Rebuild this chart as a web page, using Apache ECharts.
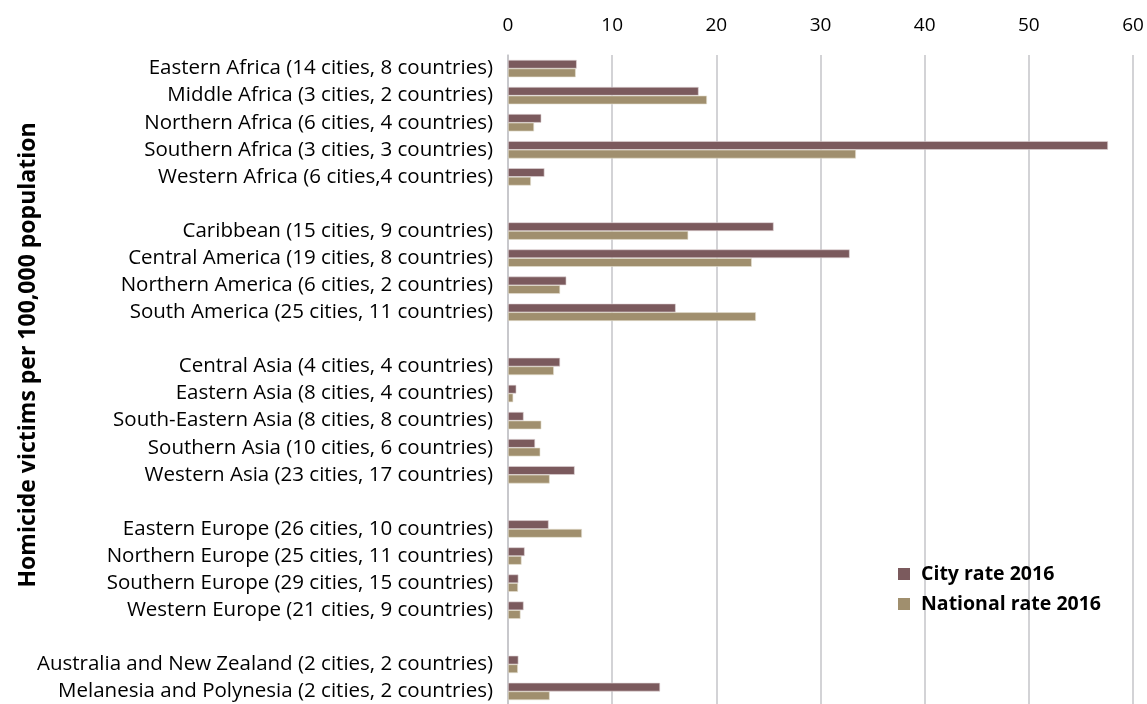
<!DOCTYPE html>
<html>
<head>
<meta charset="utf-8">
<script src="https://cdn.jsdelivr.net/npm/echarts@6/dist/echarts.min.js"></script>
<style>
html,body{margin:0;padding:0;background:#fff;}
#chart{width:1147px;height:704px;}
</style>
</head>
<body>
<div id="chart"></div>
<script>
const categories = [
  'Eastern Africa (14 cities, 8 countries)',
  'Middle Africa (3 cities, 2 countries)',
  'Northern Africa (6 cities, 4 countries)',
  'Southern Africa (3 cities, 3 countries)',
  'Western Africa (6 cities,4 countries)',
  ' ',
  'Caribbean (15 cities, 9 countries)',
  'Central America (19 cities, 8 countries)',
  'Northern America (6 cities, 2 countries)',
  'South America (25 cities, 11 countries)',
  '  ',
  'Central Asia (4 cities, 4 countries)',
  'Eastern Asia (8 cities, 4 countries)',
  'South-Eastern Asia (8 cities, 8 countries)',
  'Southern Asia (10 cities, 6 countries)',
  'Western Asia (23 cities, 17 countries)',
  '   ',
  'Eastern Europe (26 cities, 10 countries)',
  'Northern Europe (25 cities, 11 countries)',
  'Southern Europe (29 cities, 15 countries)',
  'Western Europe (21 cities, 9 countries)',
  '    ',
  'Australia and New Zealand (2 cities, 2 countries)',
  'Melanesia and Polynesia (2 cities, 2 countries)'
];
const cityRate2016 = [6.6, 18.3, 3.2, 57.6, 3.5, null, 25.5, 32.8, 5.6, 16.1, null, 5.0, 0.8, 1.5, 2.6, 6.4, null, 3.9, 1.6, 1.0, 1.5, null, 1.0, 14.6];
const nationalRate2016 = [6.5, 19.1, 2.5, 33.4, 2.2, null, 17.3, 23.4, 5.0, 23.8, null, 4.4, 0.5, 3.2, 3.1, 4.0, null, 7.1, 1.3, 0.96, 1.2, null, 0.95, 4.0];
const xTicks = {min: 0, max: 60, interval: 10};
const seriesNames = ['City rate 2016', 'National rate 2016'];
const yTitle = 'Homicide victims per 100,000 population';

const FONT = 'Open Sans';
const chart = echarts.init(document.getElementById('chart'), null, {renderer: 'canvas'});
chart.setOption({
  animation: false,
  backgroundColor: '#ffffff',
  textStyle: {fontFamily: FONT},
  grid: {left: 508, width: 625, top: 55, height: 650, containLabel: false, outerBoundsMode: 'none'},
  legend: {
    orient: 'vertical',
    left: 893, top: 559,
    itemWidth: 12, itemHeight: 12, itemGap: 10,
    icon: 'rect',
    itemStyle: {borderWidth: 0},
    textStyle: {fontFamily: FONT, fontSize: 19.5, fontWeight: 'bold', color: '#000', lineHeight: 20, padding: [0, 0, 0, 6]},
    data: seriesNames
  },
  graphic: [{
    type: 'text', x: 28, y: 355, rotation: Math.PI / 2,
    style: {text: yTitle, fontFamily: FONT, fontSize: 23, fontWeight: 'bold', fill: '#000',
            textAlign: 'center', textVerticalAlign: 'middle'}
  }],
  xAxis: {
    type: 'value', position: 'top',
    min: xTicks.min, max: xTicks.max, interval: xTicks.interval,
    axisLine: {show: false}, axisTick: {show: false},
    axisLabel: {fontSize: 19, color: '#000', margin: 20, fontFamily: FONT},
    splitLine: {lineStyle: {color: '#C4C4C8', width: 1.5}}
  },
  yAxis: {
    type: 'category', inverse: true, data: categories,
    axisLine: {show: true, lineStyle: {color: '#C4C4C8', width: 1.5}},
    axisTick: {show: false},
    axisLabel: {fontSize: 20.5, color: '#000', margin: 15, fontFamily: FONT, interval: 0}
  },
  series: [
    {name: seriesNames[0], type: 'bar', data: cityRate2016, barGap: '0%', barCategoryGap: '36%',
     itemStyle: {color: '#7B5A5D', borderColor: '#E2D8DA', borderWidth: 0.6}},
    {name: seriesNames[1], type: 'bar', data: nationalRate2016, barGap: '0%', barCategoryGap: '36%',
     itemStyle: {color: '#A08F6E', borderColor: '#E6E0D2', borderWidth: 0.6}}
  ]
});
</script>
</body>
</html>
